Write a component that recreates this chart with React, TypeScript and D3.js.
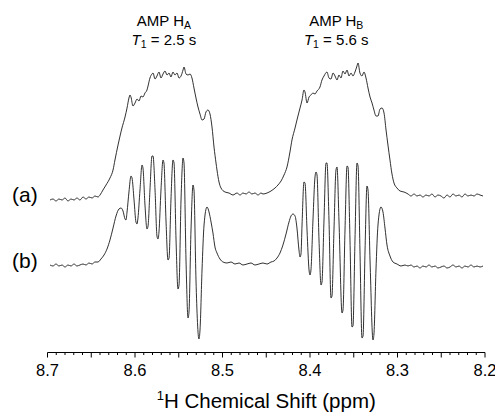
import React from "react";
import * as d3 from "d3";

// ---------- data ----------
const PPM_DOMAIN: [number, number] = [8.7, 8.2];
const TICK_LABELS = ["8.7", "8.6", "8.5", "8.4", "8.3", "8.2"];
const TICK_VALUES = [8.7, 8.6, 8.5, 8.4, 8.3, 8.2];
const X_TITLE_SUP = "1";
const X_TITLE = "H Chemical Shift (ppm)";

const TRACE_NAMES = ["(a)", "(b)"];
const TRACE_OFFSETS = [0, -66];

const PEAK_NAMES = ["A", "B"];
const PEAK_T1 = ["2.5", "5.6"];
const PEAK_CENTERS = [8.567, 8.37];

// [ppm, intensity (a.u.)]
const TRACE_A: [number, number][] = [
  [8.6971, 0], [8.6937, 1], [8.6903, -1], [8.6869, 1], [8.6834, 0], [8.68, 2],
  [8.6766, -1], [8.6731, 1], [8.6697, 0], [8.6663, 2], [8.6629, 0], [8.6594, 3],
  [8.656, 1], [8.6526, 3], [8.6491, 2], [8.6457, 4], [8.6423, 3], [8.64, 5],
  [8.6366, 10], [8.6331, 15], [8.6286, 22], [8.6251, 30], [8.6229, 40], [8.6194, 55],
  [8.6171, 64], [8.6149, 72], [8.6114, 83], [8.6091, 92], [8.6069, 102], [8.6057, 105],
  [8.6046, 103], [8.6023, 94], [8.6, 97], [8.5977, 101], [8.5954, 99], [8.5931, 104],
  [8.5909, 103], [8.5886, 107], [8.5863, 110], [8.5851, 114], [8.5829, 122], [8.5806, 126],
  [8.5794, 127], [8.5771, 121], [8.5749, 124], [8.5726, 128], [8.5703, 122], [8.568, 126],
  [8.5657, 129], [8.5634, 125], [8.5611, 127], [8.5589, 123], [8.5566, 128], [8.5543, 125],
  [8.552, 127], [8.5497, 122], [8.5474, 124], [8.5451, 130], [8.544, 133], [8.5417, 126],
  [8.5394, 125], [8.5371, 126], [8.5349, 122], [8.5326, 112], [8.5303, 102], [8.528, 93],
  [8.5257, 86], [8.5234, 80], [8.5211, 81], [8.5189, 88], [8.5166, 90], [8.5143, 86],
  [8.512, 73], [8.5097, 53], [8.5074, 37], [8.5063, 30], [8.504, 18], [8.5017, 12],
  [8.4971, 8], [8.4926, 7], [8.488, 5], [8.4834, 7], [8.48, 5], [8.4766, 7],
  [8.4731, 6], [8.4697, 8], [8.4663, 6], [8.4629, 7], [8.4594, 5], [8.456, 7],
  [8.4537, 6], [8.4491, 7], [8.4446, 9], [8.44, 12], [8.4366, 15], [8.4331, 19],
  [8.4297, 25], [8.4263, 33], [8.4229, 48], [8.4206, 60], [8.4171, 72], [8.4149, 80],
  [8.4114, 92], [8.4091, 100], [8.4069, 110], [8.4057, 108], [8.4034, 97], [8.4011, 103],
  [8.3989, 105], [8.3966, 107], [8.3943, 106], [8.392, 109], [8.3886, 113], [8.3863, 120],
  [8.384, 124], [8.3806, 128], [8.3783, 122], [8.376, 121], [8.3737, 127], [8.3714, 124],
  [8.3691, 120], [8.3669, 125], [8.3646, 122], [8.3623, 129], [8.36, 126], [8.3577, 130],
  [8.3554, 124], [8.3531, 127], [8.3509, 124], [8.3486, 128], [8.3463, 134], [8.3451, 137],
  [8.3429, 127], [8.3406, 124], [8.3383, 128], [8.336, 122], [8.3337, 112], [8.3314, 103],
  [8.3291, 97], [8.3269, 90], [8.3246, 84], [8.3223, 84], [8.32, 91], [8.3177, 92],
  [8.3154, 87], [8.3131, 70], [8.3109, 55], [8.3086, 40], [8.3063, 26], [8.304, 17],
  [8.3006, 12], [8.2971, 9], [8.2926, 8], [8.288, 6], [8.2846, 4], [8.2811, 6],
  [8.2777, 4], [8.2743, 5], [8.2709, 3], [8.2674, 5], [8.264, 4], [8.2606, 6],
  [8.2571, 3], [8.2537, 5], [8.2503, 4], [8.2469, 2], [8.2434, 5], [8.24, 3],
  [8.2366, 6], [8.2331, 4], [8.2297, 5], [8.2263, 3], [8.2229, 6], [8.2194, 4],
  [8.216, 5], [8.2126, 4], [8.2091, 6], [8.2057, 5], [8.2023, 4],
];

const TRACE_B: [number, number][] = [
  [8.6971, 1], [8.6937, 0], [8.6903, 2], [8.6869, 0], [8.6834, 1], [8.68, -1],
  [8.6766, 1], [8.6731, 0], [8.6697, 2], [8.6663, 0], [8.6629, 1], [8.6594, 2],
  [8.656, 1], [8.6526, 3], [8.6491, 2], [8.6457, 4], [8.6423, 4], [8.6389, 7],
  [8.6354, 11], [8.632, 17], [8.6286, 26], [8.6251, 38], [8.6217, 50], [8.6183, 57],
  [8.616, 58], [8.6137, 55], [8.6114, 47], [8.6103, 46], [8.6091, 54], [8.6069, 74],
  [8.6046, 90], [8.6034, 88], [8.6011, 66], [8.5989, 44], [8.5977, 42], [8.5966, 48],
  [8.5943, 76], [8.592, 101], [8.5909, 98], [8.5886, 61], [8.5863, 37], [8.5851, 40],
  [8.5829, 76], [8.5806, 110], [8.5794, 110], [8.5771, 76], [8.5749, 30], [8.5737, 27],
  [8.5726, 34], [8.5703, 76], [8.568, 106], [8.5669, 103], [8.5646, 46], [8.5623, 6],
  [8.5611, 8], [8.5589, 66], [8.5566, 106], [8.5554, 103], [8.5531, 26], [8.5509, -23],
  [8.5497, -19], [8.5474, 66], [8.5451, 108], [8.544, 103], [8.5417, 6], [8.5394, -52],
  [8.5383, -46], [8.536, 36], [8.5337, 81], [8.5326, 76], [8.5303, -14], [8.5269, -73],
  [8.5257, -64], [8.5234, -4], [8.5211, 41], [8.5177, 59], [8.5154, 54], [8.5131, 44],
  [8.5109, 33], [8.5086, 19], [8.5063, 13], [8.5029, 7], [8.4994, 4], [8.4949, 3],
  [8.4903, 4], [8.4857, 2], [8.4811, 3], [8.4766, 1], [8.472, 2], [8.4674, 3],
  [8.4629, 1], [8.4583, 2], [8.4537, 3], [8.4491, 2], [8.4446, 4], [8.4411, 5],
  [8.4377, 8], [8.4343, 13], [8.4309, 21], [8.4274, 32], [8.424, 44], [8.4217, 50],
  [8.4194, 52], [8.4171, 50], [8.4149, 38], [8.4126, 16], [8.4114, 9], [8.4103, 12],
  [8.4091, 41], [8.4069, 84], [8.4057, 83], [8.4034, 36], [8.4011, -4], [8.4, -9],
  [8.3989, -4], [8.3966, 46], [8.3943, 89], [8.3931, 94], [8.392, 91], [8.3897, 26],
  [8.3874, -19], [8.3863, -16], [8.384, 46], [8.3817, 103], [8.3806, 103], [8.3783, 46],
  [8.376, -32], [8.3749, -30], [8.3726, 36], [8.3703, 96], [8.3691, 99], [8.3669, 46],
  [8.3634, -47], [8.3623, -44], [8.36, 36], [8.3577, 100], [8.3566, 99], [8.3543, 26],
  [8.352, -61], [8.3509, -60], [8.3486, 26], [8.3463, 103], [8.3451, 100], [8.3429, 16],
  [8.3406, -72], [8.3394, -70], [8.3371, 16], [8.3349, 80], [8.3337, 76], [8.3314, 6],
  [8.328, -74], [8.3269, -68], [8.3246, -4], [8.3223, 41], [8.3189, 59], [8.3166, 54],
  [8.3143, 38], [8.312, 21], [8.3086, 10], [8.3051, 4], [8.3006, 2], [8.296, 0],
  [8.2914, 1], [8.288, 0], [8.2846, 1], [8.2811, -1], [8.2777, 0], [8.2743, -2],
  [8.2709, 0], [8.2674, -1], [8.264, 1], [8.2606, -1], [8.2571, 0], [8.2537, -2],
  [8.2503, -1], [8.2469, 0], [8.2434, -2], [8.24, -1], [8.2366, 1], [8.2331, -1],
  [8.2297, 0], [8.2263, -2], [8.2229, 0], [8.2194, -1], [8.216, 1], [8.2126, -1],
  [8.2091, 0], [8.2057, -1], [8.2023, 0],
];

const TRACES = [TRACE_A, TRACE_B];

// ---------- chart ----------
const W = 495;
const H = 416;
const FONT = "'Liberation Sans', Arial, Helvetica, sans-serif";

export default function App() {
  const x = d3.scaleLinear().domain(PPM_DOMAIN).range([47.5, 485]);
  const y = d3.scaleLinear().domain([-150, 140]).range([350, 60]);
  const axisY = 352.5;

  const minorTicks = d3.range(0, 51).map((i) => ({
    v: PPM_DOMAIN[0] - i * 0.01,
    major: i % 5 === 0,
  }));

  const lines = TRACES.map((tr, k) =>
    d3
      .line<[number, number]>()
      .x((d) => x(d[0]))
      .y((d) => y(d[1] + TRACE_OFFSETS[k]))
      .curve(d3.curveMonotoneX)(tr) as string
  );

  return (
    <svg
      width={W}
      height={H}
      style={{ position: "absolute", left: 0, top: 0, background: "#fff" }}
      fontFamily={FONT}
    >
      <rect width={W} height={H} fill="#fff" />
      {/* header labels */}
      {PEAK_NAMES.map((n, i) => (
        <g key={n} transform={`translate(${x(PEAK_CENTERS[i])},0)`} fill="#000">
          <text y={26} textAnchor="middle" fontSize={15}>
            AMP H
            <tspan fontSize={10.5} dy={3}>
              {n}
            </tspan>
          </text>
          <text y={45} textAnchor="middle" fontSize={15}>
            <tspan fontStyle="italic">T</tspan>
            <tspan fontSize={10.5} dy={3}>
              1
            </tspan>
            <tspan dy={-3}>{` = ${PEAK_T1[i]} s`}</tspan>
          </text>
        </g>
      ))}

      {/* traces */}
      {lines.map((d, k) => (
        <path key={k} d={d} fill="none" stroke="#1a1a1a" strokeWidth={0.9} />
      ))}

      {/* trace labels */}
      {TRACE_NAMES.map((n, k) => (
        <text key={n} x={12} y={y(TRACE_OFFSETS[k]) + 2} fontSize={21} fill="#000">
          {n}
        </text>
      ))}

      {/* axis */}
      <line x1={x(PPM_DOMAIN[0])} x2={x(PPM_DOMAIN[1])} y1={axisY} y2={axisY} stroke="#000" strokeWidth={1} />
      {minorTicks.map((t, i) => (
        <line
          key={i}
          x1={x(t.v)}
          x2={x(t.v)}
          y1={axisY}
          y2={axisY + (t.major ? 5 : 2.5)}
          stroke="#000"
          strokeWidth={1}
        />
      ))}
      {TICK_VALUES.map((v, i) => (
        <text key={v} x={x(v)} y={376} textAnchor="middle" fontSize={16.5} fill="#000">
          {TICK_LABELS[i]}
        </text>
      ))}
      <text x={(x(PPM_DOMAIN[0]) + x(PPM_DOMAIN[1])) / 2} y={408} textAnchor="middle" fontSize={20.5} fill="#000">
        <tspan fontSize={13} dy={-8}>
          {X_TITLE_SUP}
        </tspan>
        <tspan dy={8}>{X_TITLE}</tspan>
      </text>
    </svg>
  );
}
